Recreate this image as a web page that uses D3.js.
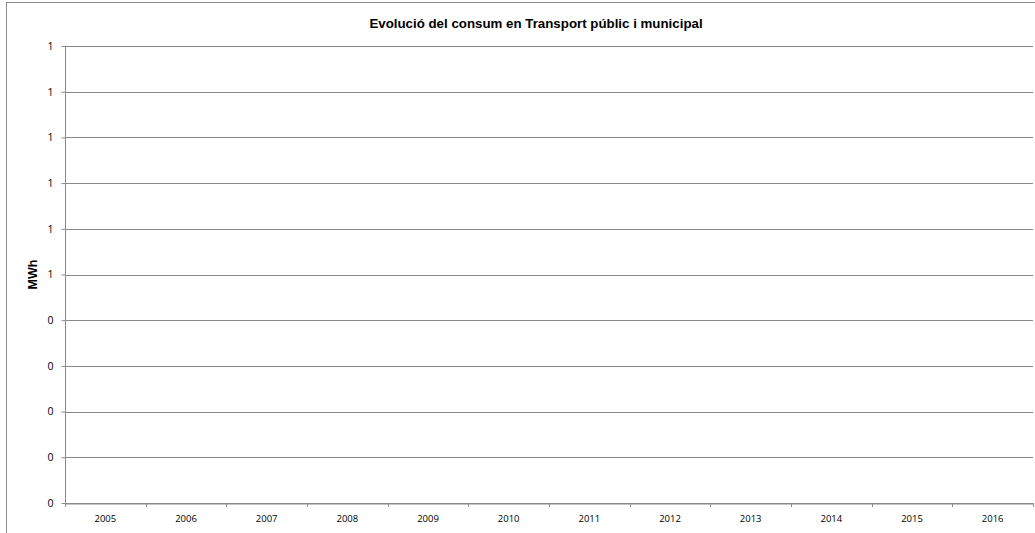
<!DOCTYPE html>
<html><head><meta charset="utf-8">
<script src="https://cdn.jsdelivr.net/npm/d3@7"></script>
<style>body{margin:0;background:#fff}svg{display:block}</style>
</head><body>
<svg id="c" width="1035" height="533"></svg>
<script>
const title = "Evolució del consum en Transport públic i municipal";
const yTitle = "MWh";
const categories = ["2005","2006","2007","2008","2009","2010","2011","2012","2013","2014","2015","2016"];
const values = [null,null,null,null,null,null,null,null,null,null,null,null];
const yTicks = [0,0.1,0.2,0.3,0.4,0.5,0.6,0.7,0.8,0.9,1.0];
const yTickLabels = ["0","0","0","0","0","1","1","1","1","1","1"];

const svg = d3.select("#c");
const m = {l:65, r:1033, t:46, b:503};
// outer chart border
svg.append("rect").attr("x",6.5).attr("y",2.5).attr("width",1040).attr("height",540)
  .attr("fill","none").attr("stroke","#8c8c8c").attr("stroke-width",1);

const x = d3.scaleBand().domain(categories).range([m.l,m.r]);
const y = d3.scaleLinear().domain([0,1]).range([m.b,m.t]);

// gridlines
svg.append("g").selectAll("line").data(yTicks).join("line")
  .attr("x1",m.l).attr("x2",m.r)
  .attr("y1",d=>Math.round(y(d))+0.5).attr("y2",d=>Math.round(y(d))+0.5)
  .attr("stroke","#8a8a8a").attr("stroke-width",1);

// y axis
const ya = svg.append("g").attr("transform",`translate(${m.l+0.5},0)`)
  .call(d3.axisLeft(y).tickValues(yTicks).tickSize(4).tickPadding(8)
    .tickFormat((d,i)=>yTickLabels[i]).offset(0.5));
ya.select(".domain").attr("stroke","#8a8a8a").attr("d",`M-4,${m.t+0.5}H0V${m.b+0.5}`);
ya.selectAll(".tick line").attr("stroke","#8a8a8a");
ya.selectAll("text").attr("font-family","'Open Sans', 'DejaVu Sans', sans-serif").attr("font-size","10.5px").attr("fill","#000");

// x axis
const xa = svg.append("g").attr("transform",`translate(0,${Math.round(m.b)+0.5})`)
  .call(d3.axisBottom(x).tickSize(0).tickPadding(12));
xa.select(".domain").attr("stroke","#8a8a8a");
xa.selectAll("text").attr("font-family","'Open Sans', 'DejaVu Sans', sans-serif").attr("font-size","9.5px").attr("fill","#000");
// category boundary ticks
const bounds = categories.map(c=>x(c)).concat([m.r]);
svg.append("g").selectAll("line").data(bounds).join("line")
  .attr("x1",d=>Math.round(d)+0.5).attr("x2",d=>Math.round(d)+0.5)
  .attr("y1",m.b).attr("y2",m.b+4).attr("stroke","#8a8a8a");

// (empty series)
svg.append("g").selectAll("circle").data(values.filter(v=>v!=null)).join("circle");

// title
svg.append("text").attr("x",536).attr("y",28).attr("text-anchor","middle")
  .attr("font-family","'Liberation Sans', Arial, sans-serif").attr("font-weight","bold")
  .attr("font-size","13.3px").text(title);

// y title
svg.append("text").attr("transform",`translate(37,${(m.t+m.b)/2}) rotate(-90)`)
  .attr("text-anchor","middle").attr("font-family","'Liberation Sans', Arial, sans-serif")
  .attr("font-weight","bold").attr("font-size","12.5px").text(yTitle);
</script>
</body></html>
